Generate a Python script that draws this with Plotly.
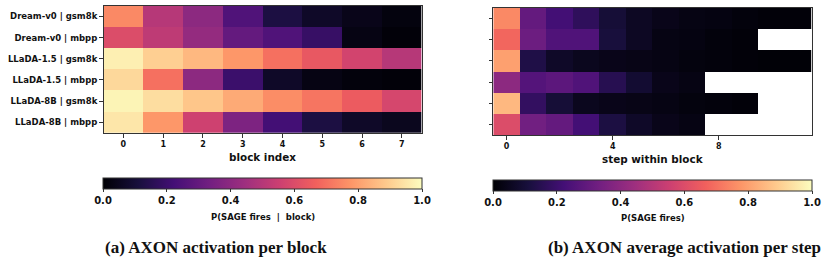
import plotly.graph_objects as go

rows = ["Dream-v0 | gsm8k", "Dream-v0 | mbpp", "LLaDA-1.5 | gsm8k",
        "LLaDA-1.5 | mbpp", "LLaDA-8B | gsm8k", "LLaDA-8B | mbpp"]
blocks = [0, 1, 2, 3, 4, 5, 6, 7]
steps = list(range(12))

block_vals = [
    [0.75, 0.50, 0.40, 0.25, 0.12, 0.07, 0.04, 0.02],
    [0.60, 0.52, 0.42, 0.30, 0.25, 0.19, 0.03, 0.01],
    [0.97, 0.90, 0.85, 0.78, 0.70, 0.64, 0.57, 0.50],
    [0.92, 0.70, 0.40, 0.20, 0.07, 0.03, 0.015, 0.01],
    [0.98, 0.93, 0.88, 0.82, 0.76, 0.71, 0.65, 0.58],
    [0.95, 0.78, 0.56, 0.36, 0.22, 0.12, 0.07, 0.05],
]
N = None
step_vals = [
    [0.75, 0.30, 0.22, 0.17, 0.10, 0.06, 0.04, 0.03, 0.025, 0.015, 0.01, 0.01],
    [0.68, 0.32, 0.25, 0.25, 0.11, 0.06, 0.03, 0.025, 0.015, 0.01, N, N],
    [0.80, 0.13, 0.07, 0.05, 0.04, 0.035, 0.03, 0.02, 0.015, 0.01, 0.005, 0.005],
    [0.40, 0.26, 0.28, 0.25, 0.15, 0.09, 0.04, 0.03, N, N, N, N],
    [0.85, 0.18, 0.10, 0.05, 0.04, 0.035, 0.03, 0.02, 0.015, 0.01, N, N],
    [0.60, 0.33, 0.30, 0.22, 0.12, 0.07, 0.04, 0.03, N, N, N, N],
]
cbar_ticks = [0.0, 0.2, 0.4, 0.6, 0.8, 1.0]

W, H = 832, 267
def px(x): return x / W
def py(y): return 1 - y / H

FONT = "DejaVu Sans"
fig = go.Figure()

def cbar(x0, x1, ytop):
    return dict(
        orientation="h", x=(px(x0) + px(x1)) / 2, xanchor="center",
        len=(x1 - x0) / W, lenmode="fraction", thickness=11,
        y=py(ytop), yanchor="top", xpad=0, ypad=0,
        outlinewidth=1, outlinecolor="#333",
        tickvals=cbar_ticks, ticktext=[f"{v:.1f}" for v in cbar_ticks],
        ticks="outside", ticklen=3, tickcolor="#333",
        tickfont=dict(family=FONT, size=10, color="#111", weight="bold"),
    )

fig.add_trace(go.Heatmap(
    z=block_vals, x=blocks, y=rows, colorscale="Magma", zmin=0, zmax=1,
    xaxis="x", yaxis="y", colorbar=cbar(103, 422, 178), hoverongaps=False,
))
fig.add_trace(go.Heatmap(
    z=step_vals, x=steps, y=rows, colorscale="Magma", zmin=0, zmax=1,
    xaxis="x2", yaxis="y2", colorbar=cbar(493, 812, 180), hoverongaps=False,
))

axcommon = dict(showline=True, mirror=True, linecolor="#333", linewidth=1,
                ticks="outside", ticklen=3.5, tickcolor="#333", showgrid=False,
                zeroline=False)
tickf = dict(family=FONT, size=8, color="#111", weight="bold")

fig.update_layout(
    width=W, height=H, margin=dict(l=0, r=0, t=0, b=0),
    paper_bgcolor="white", plot_bgcolor="white",
    xaxis=dict(domain=[px(103.5), px(421.7)], anchor="y", tickvals=blocks,
               tickfont=tickf, range=[-0.5, 7.5], **axcommon),
    yaxis=dict(domain=[py(133), py(5.7)], anchor="x", autorange="reversed",
               tickfont=dict(family=FONT, size=8.5, color="#111", weight="bold"),
               **axcommon),
    xaxis2=dict(domain=[px(493.3), px(811.7)], anchor="y2", tickvals=[0, 4, 8],
                tickfont=tickf, range=[-0.5, 11.5], **axcommon),
    yaxis2=dict(domain=[py(135), py(8)], anchor="x2", autorange="reversed",
                showticklabels=False, **axcommon),
)

ann = [
    dict(text="block index", x=px(262.5), y=py(157), size=10.4, font=FONT),
    dict(text="step within block", x=px(652.5), y=py(159), size=10.4, font=FONT),
    dict(text="P(SAGE fires  |  block)", x=px(262.5), y=py(216.7), size=8.5, font=FONT),
    dict(text="P(SAGE fires)", x=px(652.5), y=py(218), size=8.5, font=FONT),
    dict(text="(a) AXON activation per block", x=px(216), y=py(247), size=17, font="Liberation Serif"),
    dict(text="(b) AXON average activation per step", x=px(684), y=py(247), size=17, font="Liberation Serif"),
]
for a in ann:
    fig.add_annotation(text=a["text"], x=a["x"], y=a["y"], xref="paper", yref="paper",
                       xanchor="center", yanchor="middle", showarrow=False,
                       font=dict(family=a["font"], size=a["size"], color="#111", weight="bold"))

fig.write_html("out.html")
